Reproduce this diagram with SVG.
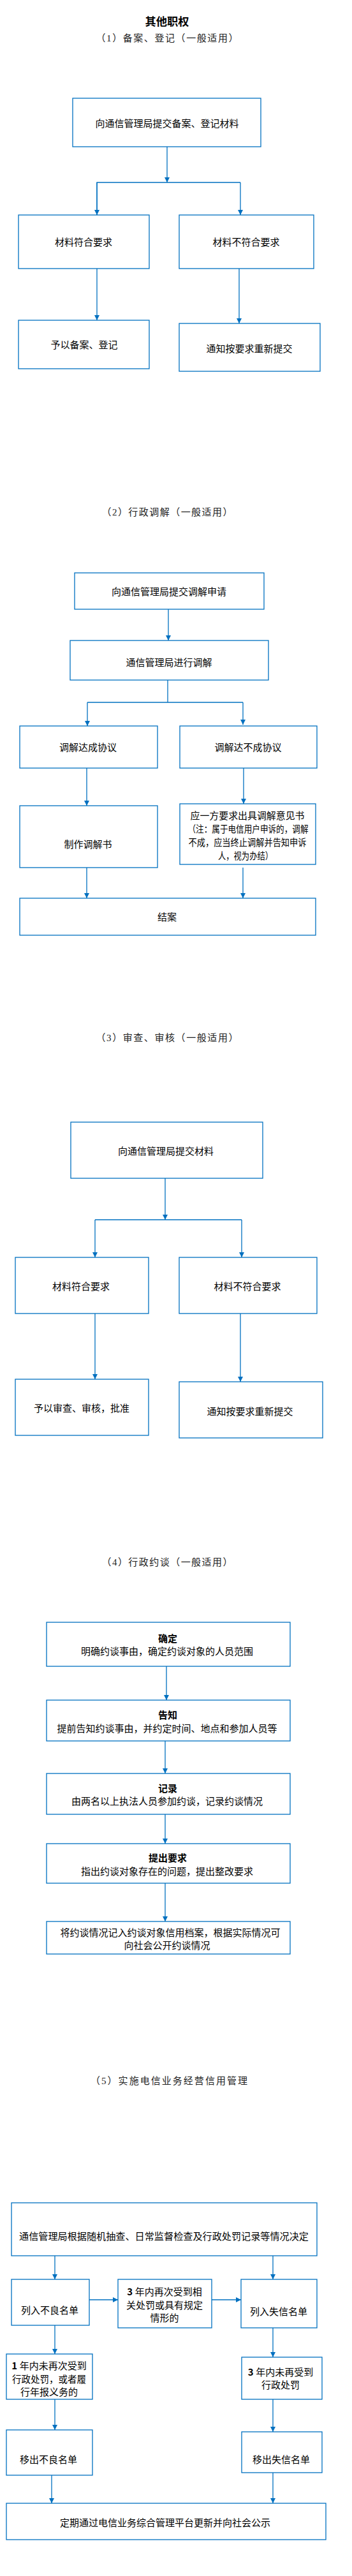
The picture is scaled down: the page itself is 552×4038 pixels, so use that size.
<svg xmlns="http://www.w3.org/2000/svg" width="552" height="4038" viewBox="0 0 552 4038">
<style>
.bx{fill:#fff;stroke:#0070C0;stroke-width:1.3}
.t{font-family:"Noto Sans CJK SC","Noto Sans",sans-serif;font-size:15px;fill:#000;text-anchor:middle;dominant-baseline:central}
.b{font-weight:bold}
.h{font-family:"Liberation Serif","Noto Sans CJK SC",serif;font-size:15px;fill:#222;text-anchor:middle;dominant-baseline:central}
.ttl{font-family:"Liberation Serif","Noto Sans CJK SC",serif;font-size:17px;font-weight:bold;fill:#000;text-anchor:middle;dominant-baseline:central}
.c{fill:none;stroke:#0070C0;stroke-width:1.3}
</style>
<defs>
<marker id="ah" markerUnits="userSpaceOnUse" markerWidth="9" markerHeight="9" refX="8" refY="4" orient="auto">
<path d="M0,0 L8,4 L0,8 z" fill="#0070C0"/>
</marker>
</defs>
<rect width="552" height="4038" fill="#fff"/>
<g id="titles">
<text class="ttl" x="262" y="34" textLength="69" lengthAdjust="spacingAndGlyphs">其他职权</text>
<text class="h" x="262" y="60" textLength="223" lengthAdjust="spacing">（1）备案、登记（一般适用）</text>
<text class="h" x="262" y="803" textLength="205" lengthAdjust="spacing">（2）行政调解（一般适用）</text>
<text class="h" x="262" y="1627" textLength="223" lengthAdjust="spacing">（3）审查、审核（一般适用）</text>
<text class="h" x="262" y="2449" textLength="205" lengthAdjust="spacing">（4）行政约谈（一般适用）</text>
<text class="h" x="265" y="3262" textLength="246" lengthAdjust="spacing">（5）实施电信业务经营信用管理</text>
</g>
<g id="connectors">
<path class="c" d="M262,230 V286" marker-end="url(#ah)"/>
<path class="c" d="M152,337 V286 H377"/>
<path class="c" d="M152,286 V337" marker-end="url(#ah)"/>
<path class="c" d="M377,286 V337" marker-end="url(#ah)"/>
<path class="c" d="M152,421 V502" marker-end="url(#ah)"/>
<path class="c" d="M375,421 V507" marker-end="url(#ah)"/>
<path class="c" d="M264,955 V1004" marker-end="url(#ah)"/>
<path class="c" d="M263,1066 V1101"/>
<path class="c" d="M137,1101 H381"/>
<path class="c" d="M137,1101 V1138" marker-end="url(#ah)"/>
<path class="c" d="M381,1101 V1136" marker-end="url(#ah)"/>
<path class="c" d="M136,1204 V1263" marker-end="url(#ah)"/>
<path class="c" d="M382,1204 V1260" marker-end="url(#ah)"/>
<path class="c" d="M136,1360 V1408" marker-end="url(#ah)"/>
<path class="c" d="M381,1360 V1408" marker-end="url(#ah)"/>
<path class="c" d="M259,1847 V1912" marker-end="url(#ah)"/>
<path class="c" d="M149,1912 H379"/>
<path class="c" d="M149,1912 V1971" marker-end="url(#ah)"/>
<path class="c" d="M379,1912 V1971" marker-end="url(#ah)"/>
<path class="c" d="M149,2059 V2162" marker-end="url(#ah)"/>
<path class="c" d="M377,2059 V2166" marker-end="url(#ah)"/>
<path class="c" d="M261,2612 V2665" marker-end="url(#ah)"/>
<path class="c" d="M259,2729 V2780" marker-end="url(#ah)"/>
<path class="c" d="M259,2844 V2890" marker-end="url(#ah)"/>
<path class="c" d="M259,2952 V3012" marker-end="url(#ah)"/>
<path class="c" d="M86,3536 V3573" marker-end="url(#ah)"/>
<path class="c" d="M428,3536 V3573" marker-end="url(#ah)"/>
<path class="c" d="M140,3605 H185" marker-end="url(#ah)"/>
<path class="c" d="M332,3605 H378" marker-end="url(#ah)"/>
<path class="c" d="M86,3645 V3690" marker-end="url(#ah)"/>
<path class="c" d="M428,3649 V3695" marker-end="url(#ah)"/>
<path class="c" d="M86,3761 V3809" marker-end="url(#ah)"/>
<path class="c" d="M428,3761 V3812" marker-end="url(#ah)"/>
<path class="c" d="M81,3880 V3924" marker-end="url(#ah)"/>
<path class="c" d="M428,3876 V3924" marker-end="url(#ah)"/>
</g>
<g id="n1"><rect class="bx" x="114" y="154" width="295" height="76"/><text class="t" x="262" y="192">向通信管理局提交备案、登记材料</text></g>
<g id="n2"><rect class="bx" x="29" y="337" width="205" height="84"/><text class="t" x="131" y="378">材料符合要求</text></g>
<g id="n3"><rect class="bx" x="281" y="337" width="211" height="84"/><text class="t" x="386" y="378">材料不符合要求</text></g>
<g id="n4"><rect class="bx" x="29" y="502" width="205" height="76"/><text class="t" x="132" y="539">予以备案、登记</text></g>
<g id="n5"><rect class="bx" x="281" y="507" width="221" height="75"/><text class="t" x="391" y="545">通知按要求重新提交</text></g>
<g id="n6"><rect class="bx" x="117" y="898" width="297" height="57"/><text class="t" x="265" y="926">向通信管理局提交调解申请</text></g>
<g id="n7"><rect class="bx" x="110" y="1004" width="311" height="62"/><text class="t" x="265" y="1037">通信管理局进行调解</text></g>
<g id="n8"><rect class="bx" x="31" y="1138" width="216" height="66"/><text class="t" x="138" y="1170">调解达成协议</text></g>
<g id="n9"><rect class="bx" x="282" y="1138" width="215" height="66"/><text class="t" x="389" y="1170">调解达不成协议</text></g>
<g id="n10"><rect class="bx" x="31" y="1263" width="216" height="97"/><text class="t" x="138" y="1322">制作调解书</text></g>
<g id="n11"><rect class="bx" x="282" y="1260" width="213" height="95"/>
<text class="t" x="388" y="1277" textLength="179" lengthAdjust="spacingAndGlyphs">应一方要求出具调解意见书</text>
<text class="t" x="389" y="1298" textLength="189" lengthAdjust="spacingAndGlyphs">（注：属于电信用户申诉的，调解</text>
<text class="t" x="388" y="1319" textLength="185" lengthAdjust="spacingAndGlyphs">不成，应当终止调解并告知申诉</text>
<text class="t" x="385" y="1340" textLength="86" lengthAdjust="spacingAndGlyphs">人，视为办结）</text></g>
<g id="n12"><rect class="bx" x="31" y="1408" width="464" height="58"/><text class="t" x="262" y="1436">结案</text></g>
<g id="n13"><rect class="bx" x="111" y="1759" width="301" height="88"/><text class="t" x="260" y="1803">向通信管理局提交材料</text></g>
<g id="n14"><rect class="bx" x="24" y="1971" width="209" height="88"/><text class="t" x="127" y="2015">材料符合要求</text></g>
<g id="n15"><rect class="bx" x="281" y="1971" width="216" height="88"/><text class="t" x="388" y="2015">材料不符合要求</text></g>
<g id="n16"><rect class="bx" x="24" y="2162" width="209" height="88"/><text class="t" x="128" y="2206">予以审查、审核，批准</text></g>
<g id="n17"><rect class="bx" x="281" y="2166" width="225" height="88"/><text class="t" x="392" y="2211">通知按要求重新提交</text></g>
<g id="n18"><rect class="bx" x="73" y="2543" width="382" height="69"/><text class="t b" x="263" y="2567">确定</text><text class="t" x="262" y="2587">明确约谈事由，确定约谈对象的人员范围</text></g>
<g id="n19"><rect class="bx" x="73" y="2665" width="382" height="64"/><text class="t b" x="263" y="2687">告知</text><text class="t" x="262" y="2708">提前告知约谈事由，并约定时间、地点和参加人员等</text></g>
<g id="n20"><rect class="bx" x="73" y="2780" width="382" height="64"/><text class="t b" x="263" y="2802">记录</text><text class="t" x="262" y="2822">由两名以上执法人员参加约谈，记录约谈情况</text></g>
<g id="n21"><rect class="bx" x="73" y="2890" width="382" height="62"/><text class="t b" x="263" y="2911">提出要求</text><text class="t" x="262" y="2932">指出约谈对象存在的问题，提出整改要求</text></g>
<g id="n22"><rect class="bx" x="73" y="3012" width="382" height="51"/><text class="t" x="267" y="3028">将约谈情况记入约谈对象信用档案，根据实际情况可</text><text class="t" x="262" y="3048">向社会公开约谈情况</text></g>
<g id="n23"><rect class="bx" x="18" y="3453" width="479" height="83"/><text class="t" x="257" y="3504" textLength="454" lengthAdjust="spacingAndGlyphs">通信管理局根据随机抽查、日常监督检查及行政处罚记录等情况决定</text></g>
<g id="n24"><rect class="bx" x="18" y="3573" width="122" height="72"/><text class="t" x="78" y="3620">列入不良名单</text></g>
<g id="n25"><rect class="bx" x="185" y="3573" width="147" height="76"/>
<text class="t" x="258" y="3591"><tspan class="b">3 </tspan>年内再次受到相</text>
<text class="t" x="258" y="3612">关处罚或具有规定</text>
<text class="t" x="258" y="3632">情形的</text></g>
<g id="n26"><rect class="bx" x="378" y="3573" width="119" height="76"/><text class="t" x="437" y="3622">列入失信名单</text></g>
<g id="n27"><rect class="bx" x="10" y="3690" width="135" height="71"/>
<text class="t" x="77" y="3707"><tspan class="b">1 </tspan>年内未再次受到</text>
<text class="t" x="77" y="3728" textLength="116" lengthAdjust="spacingAndGlyphs">行政处罚，或者履</text>
<text class="t" x="77" y="3748">行年报义务的</text></g>
<g id="n28"><rect class="bx" x="379" y="3695" width="126" height="66"/>
<text class="t" x="440" y="3717"><tspan class="b">3 </tspan>年内未再受到</text>
<text class="t" x="440" y="3737">行政处罚</text></g>
<g id="n29"><rect class="bx" x="10" y="3809" width="135" height="71"/><text class="t" x="76" y="3854">移出不良名单</text></g>
<g id="n30"><rect class="bx" x="379" y="3812" width="126" height="64"/><text class="t" x="441" y="3854">移出失信名单</text></g>
<g id="n31"><rect class="bx" x="10" y="3924" width="501" height="57"/><text class="t" x="259" y="3953">定期通过电信业务综合管理平台更新并向社会公示</text></g>
</svg>
